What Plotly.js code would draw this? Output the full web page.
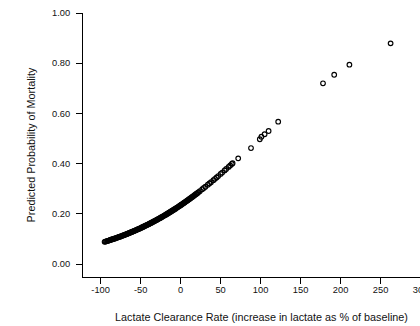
<!DOCTYPE html>
<html>
<head>
<meta charset="utf-8">
<script src="https://cdn.plot.ly/plotly-3.0.1.min.js"></script>
<style>
html,body{margin:0;padding:0;overflow:hidden;background:#fff;width:420px;height:326px;}
#chart{width:450px;height:326px;}
</style>
</head>
<body>
<div id="chart"></div>
<script>
// Lactate clearance rate (% increase in lactate from baseline)
var clearanceRate = [
  -95,-94,-93,-92,-91,-90,-89,-88,-87,-86,-85,-84,-83,-82,-81,-80,-79,-78,-77,-76,
  -75,-74,-73,-72,-71,-70,-69,-68,-67,-66,-65,-64,-63,-62,-61,-60,-59,-58,-57,-56,
  -55,-54,-53,-52,-51,-50,-49,-48,-47,-46,-45,-44,-43,-42,-41,-40,-39,-38,-37,-36,
  -35,-34,-33,-32,-31,-30,-29,-28,-27,-26,-25,-24,-23,-22,-21,-20,-19,-18,-17,-16,
  -15,-14,-13,-12,-11,-10,-9,-8,-7,-6,-5,-4,-3,-2,-1,0,1,2,3,4,
  5,6,7,8,9,10,11,12,13,14,15,16,17,18,19,20,21,22,
  24,27,29,31,34,36,38,41,43,45,47,50,52,55,57,60,62,64,65,
  72,88,99,101,105,110,122,178,192,211,262.5
];
// Predicted probability of mortality
var predictedMortality = [
  0.0886,0.0896,0.0906,0.0916,0.0926,0.0936,0.0946,0.0957,0.0967,0.0978,
  0.0989,0.0999,0.1010,0.1021,0.1032,0.1044,0.1055,0.1066,0.1078,0.1090,
  0.1101,0.1113,0.1125,0.1137,0.1150,0.1162,0.1175,0.1187,0.1200,0.1212,
  0.1226,0.1238,0.1252,0.1265,0.1278,0.1292,0.1305,0.1319,0.1333,0.1347,
  0.1361,0.1375,0.1390,0.1404,0.1419,0.1434,0.1449,0.1464,0.1479,0.1494,
  0.1510,0.1525,0.1541,0.1556,0.1573,0.1588,0.1605,0.1621,0.1638,0.1654,
  0.1671,0.1688,0.1705,0.1722,0.1739,0.1756,0.1774,0.1792,0.1810,0.1827,
  0.1846,0.1864,0.1882,0.1901,0.1919,0.1938,0.1957,0.1976,0.1996,0.2015,
  0.2034,0.2054,0.2074,0.2093,0.2114,0.2134,0.2154,0.2174,0.2195,0.2216,
  0.2237,0.2258,0.2279,0.2300,0.2322,0.2343,0.2365,0.2387,0.2409,0.2431,
  0.2454,0.2476,0.2498,0.2521,0.2544,0.2567,0.2590,0.2613,0.2636,0.2660,
  0.2683,0.2707,0.2731,0.2755,0.2780,0.2804,0.2828,0.2853,
  0.2902,0.2978,0.3028,0.3079,0.3157,0.3209,0.3262,0.3342,0.3396,0.3450,
  0.3505,0.3588,0.3644,0.3728,0.3785,0.3870,0.3927,0.3986,0.4014,
  0.421,0.462,0.497,0.507,0.517,0.530,0.567,0.720,0.754,0.794,0.879
];
var xTickVals = [-100,-50,0,50,100,150,200,250,300];
var xTickText = ['-100','-50','0','50','100','150','200','250','300'];
var yTickVals = [0,0.2,0.4,0.6,0.8,1.0];
var yTickText = ['0.00','0.20','0.40','0.60','0.80','1.00'];

var trace = {
  x: clearanceRate,
  y: predictedMortality,
  type: 'scatter',
  mode: 'markers',
  marker: {symbol: 'circle-open', size: 4.6, color: '#000', line: {width: 1.2, color: '#000'}},
  hoverinfo: 'skip'
};

var tickFont = {family: 'Liberation Sans, Arial, sans-serif', size: 9.3, color: '#111'};
var titleFont = {family: 'Liberation Sans, Arial, sans-serif', size: 10.8, color: '#111'};

var layout = {
  width: 450, height: 326,
  margin: {l: 83, r: 10, t: 13, b: 49, pad: 0},
  paper_bgcolor: '#fff', plot_bgcolor: '#fff',
  showlegend: false,
  xaxis: {
    range: [-122, 324.25],
    tickvals: xTickVals, ticktext: xTickText,
    ticks: 'outside', ticklen: 6, tickwidth: 1, tickcolor: '#000',
    showline: true, linecolor: '#000', linewidth: 1,
    showgrid: false, zeroline: false,
    tickfont: tickFont,
    ticklabelstandoff: -2,
    title: {text: 'Lactate Clearance Rate (increase in lactate as % of baseline)', font: titleFont, standoff: 19},
    automargin: false
  },
  yaxis: {
    range: [-0.0517, 1.0],
    tickvals: yTickVals, ticktext: yTickText,
    ticks: 'outside', ticklen: 6, tickwidth: 1, tickcolor: '#000',
    showline: true, linecolor: '#000', linewidth: 1,
    showgrid: false, zeroline: false,
    tickfont: tickFont,
    ticklabelstandoff: 4,
    title: {text: 'Predicted Probability of Mortality', font: titleFont, standoff: 14},
    automargin: false
  }
};

Plotly.newPlot('chart', [trace], layout, {staticPlot: true, displayModeBar: false});
</script>
</body>
</html>
